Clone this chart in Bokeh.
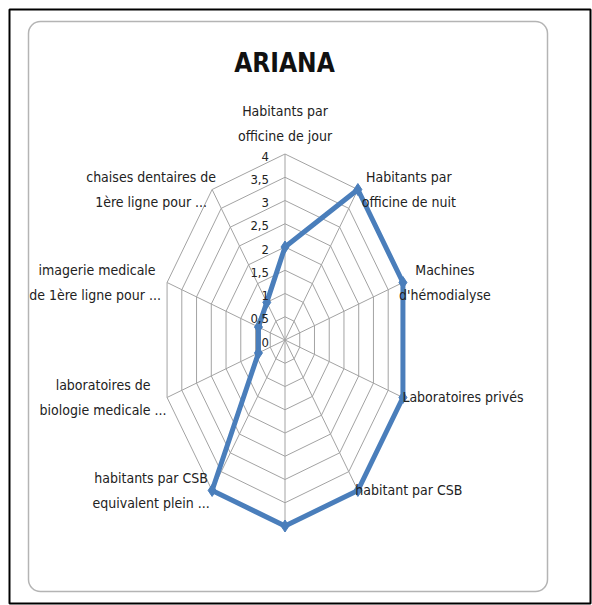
import numpy as np
from bokeh.plotting import figure
from bokeh.models import ColumnDataSource, Range1d, BoxAnnotation, Label
from bokeh.core.properties import value
from bokeh.embed import file_html
from bokeh.resources import INLINE

# ---------------- data ----------------
title_text = "ARIANA"
categories = [
    "Habitants par\nofficine de jour",
    "Habitants par\nofficine de nuit",
    "Machines\nd'hémodialyse",
    "Laboratoires privés",
    "habitant par CSB",
    "",
    "habitants par CSB\nequivalent plein ...",
    "laboratoires de\nbiologie medicale ...",
    "imagerie medicale\nde 1ère  ligne pour ...",
    "chaises dentaires de\n1ère ligne pour ...",
]
values = [2, 4, 4, 4, 4, 4, 4, 0.9, 0.9, 1]
ring_values = [0.5, 1, 1.5, 2, 2.5, 3, 3.5, 4]
tick_values = [0, 0.5, 1, 1.5, 2, 2.5, 3, 3.5, 4]
tick_labels = ["0", "0,5", "1", "1,5", "2", "2,5", "3", "3,5", "4"]
r_max = 4

# ---------------- layout ----------------
W, H = 592, 605
CX, CY = 284.5, 339.5          # page px of radar centre
SX, SY = 31.0, 46.5            # px per unit (x, y)
def px2x(px):
    return (px - CX) / SX
def py2y(py):
    return (CY - py) / SY

FONT = "'Liberation Sans Narrow', 'DejaVu Sans Condensed', sans-serif"
SERIES = "#4A7EBB"
GRID = "#a3a3a3"

p = figure(width=W, height=H, output_backend="svg", toolbar_location=None,
           x_range=Range1d(px2x(0), px2x(W)),
           y_range=Range1d(py2y(H), py2y(0)),
           x_axis_location=None, y_axis_location=None, min_border=0,
           outline_line_color=None, background_fill_color="white",
           border_fill_color="white")
p.xgrid.visible = False
p.ygrid.visible = False

# outer black frame
p.add_layout(BoxAnnotation(left=px2x(9), right=px2x(590), top=py2y(9), bottom=py2y(603),
                           fill_alpha=0, line_color="black", line_alpha=1, line_width=2,
                           level="underlay"))

# rounded chart area
p.add_layout(BoxAnnotation(left=px2x(28), right=px2x(547), top=py2y(21), bottom=py2y(591),
                           fill_color="white", fill_alpha=1, line_color="#b4b4b4",
                           line_alpha=1, line_width=1.5, border_radius=12, level="underlay"))

N = len(categories)
theta = np.arange(N) * 2 * np.pi / N
sx, cy = np.sin(theta), np.cos(theta)

# grid rings
ring_xs = [list(r * np.append(sx, sx[0])) for r in ring_values]
ring_ys = [list(r * np.append(cy, cy[0])) for r in ring_values]
p.multi_line(ring_xs, ring_ys, line_color=GRID, line_width=1)
# spokes
p.multi_line([[0, r_max * s] for s in sx], [[0, r_max * c] for c in cy],
             line_color=GRID, line_width=1)

# series
vals = np.array(values, dtype=float)
p.line(list(np.append(vals * sx, vals[0] * sx[0])), list(np.append(vals * cy, vals[0] * cy[0])),
       line_color=SERIES, line_width=5, line_join="round")
p.scatter(list(vals * sx), list(vals * cy), marker="diamond", size=12,
          fill_color=SERIES, line_color=SERIES)

# tick labels along top spoke
p.text(x=[0] * len(tick_values), y=tick_values, text=tick_labels,
       x_offset=-16, y_offset=2, text_align="right", text_baseline="middle",
       text_font=value(FONT), text_font_size="13px", text_color="#222222")

# category labels
lx, ly, lt, lxo, lyo = [], [], [], [], []
LINE = 25
for i, lab in enumerate(categories):
    if not lab:
        continue
    lines = lab.split("\n")
    n = len(lines)
    w = max(len(s) for s in lines) * 6.0
    vx, vy = r_max * sx[i], r_max * cy[i]
    if abs(sx[i]) < 1e-6:
        xo = 0
        base = -31 if cy[i] > 0 else 31
    elif sx[i] > 0:
        xo = 3 + w / 2
        base = 0
    else:
        xo = -(1 + w / 2)
        base = 0
    for k, s in enumerate(lines):
        lx.append(vx); ly.append(vy); lt.append(s)
        lxo.append(xo); lyo.append(base + (k - (n - 1) / 2) * LINE)
src = ColumnDataSource(dict(x=lx, y=ly, text=lt, xo=lxo, yo=lyo))
p.text(x="x", y="y", text="text", x_offset="xo", y_offset="yo", source=src,
       text_align="center", text_baseline="middle",
       text_font=value(FONT), text_font_size="14px", text_color="#222222")

# title
p.add_layout(Label(x=px2x(284), y=py2y(62), text=title_text, text_align="center",
                   text_baseline="middle", text_font=FONT, text_font_size="26px",
                   text_font_style="bold", text_color="#111111"))

open("out.html", "w").write(file_html(p, INLINE))
